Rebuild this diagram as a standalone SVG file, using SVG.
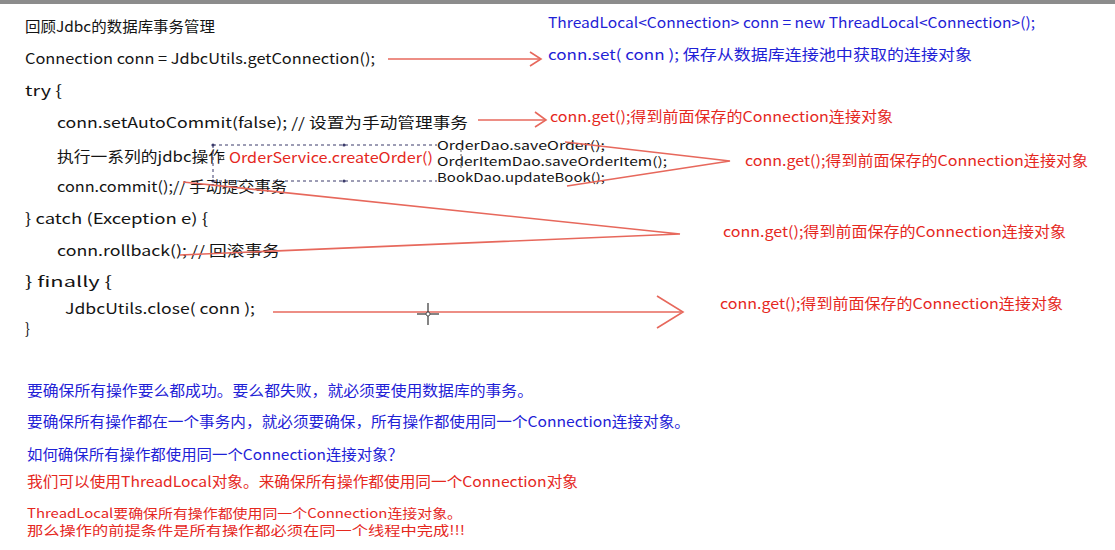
<svg xmlns="http://www.w3.org/2000/svg" width="1115" height="550" viewBox="0 0 1115 550">
<defs>
<style>
text{font-family:"Noto Sans CJK SC","Liberation Sans",sans-serif;font-size:14.5px;}
.sm{font-size:13px;}
.xs{font-size:12px;}
.k{fill:#141414;}
.b{fill:#1f22d6;}
.r{fill:#e5281e;}
.ln{stroke:#e7685c;stroke-width:1.6;fill:none;}
.dash{stroke:#3a3a6a;stroke-width:1;stroke-dasharray:3 3;fill:none;}
</style>
</defs>
<rect width="1115" height="550" fill="#ffffff"/>
<rect width="1115" height="4" fill="#8c8c8c"/>

<g id="title"><text class="k" x="25" y="32" textLength="190" lengthAdjust="spacingAndGlyphs">回顾Jdbc的数据库事务管理</text></g>
<g id="threadlocal-decl"><text class="b" x="548" y="28" textLength="487" lengthAdjust="spacingAndGlyphs">ThreadLocal&lt;Connection&gt; conn = new ThreadLocal&lt;Connection&gt;();</text></g>
<g id="get-connection"><text class="k" x="25" y="64" textLength="350" lengthAdjust="spacingAndGlyphs">Connection conn = JdbcUtils.getConnection();</text></g>
<g id="conn-set"><text class="b" x="548" y="60" textLength="424" lengthAdjust="spacingAndGlyphs">conn.set( conn );  保存从数据库连接池中获取的连接对象</text></g>
<g id="try"><text class="k" x="25" y="96" textLength="37" lengthAdjust="spacingAndGlyphs">try {</text></g>
<g id="set-autocommit"><text class="k" x="57" y="128" textLength="411" lengthAdjust="spacingAndGlyphs">conn.setAutoCommit(false); // 设置为手动管理事务</text></g>
<g id="get-1"><text class="r" x="550" y="122" textLength="343" lengthAdjust="spacingAndGlyphs">conn.get();得到前面保存的Connection连接对象</text></g>
<g id="jdbc-ops"><text class="k" x="57" y="162" textLength="168" lengthAdjust="spacingAndGlyphs">执行一系列的jdbc操作</text></g>
<g id="create-order">
<line class="dash" x1="213" y1="145" x2="437" y2="145"/>
<line class="dash" x1="213" y1="181" x2="437" y2="181"/>
<line class="dash" x1="213" y1="145" x2="213" y2="181"/>
<circle cx="213" cy="145" r="1.6" fill="#3a3a6a"/>
<circle cx="213" cy="181" r="1.6" fill="#3a3a6a"/>
<circle cx="344" cy="145" r="1.6" fill="#3a3a6a"/>
<circle cx="344" cy="181" r="1.6" fill="#3a3a6a"/>
<circle cx="222" cy="158" r="1.8" fill="none" stroke="#555" stroke-width="0.8"/>
<text class="r" x="229" y="163" textLength="204" lengthAdjust="spacingAndGlyphs">OrderService.createOrder()</text>
</g>
<g id="dao-calls">
<text class="k xs" x="437" y="150" textLength="168" lengthAdjust="spacingAndGlyphs">OrderDao.saveOrder();</text>
<text class="k xs" x="437" y="166" textLength="230" lengthAdjust="spacingAndGlyphs">OrderItemDao.saveOrderItem();</text>
<text class="k xs" x="437" y="182" textLength="168" lengthAdjust="spacingAndGlyphs">BookDao.updateBook();</text>
<line x1="461" y1="150" x2="461" y2="170" stroke="#333" stroke-width="0.8" stroke-dasharray="2 2"/>
</g>
<g id="get-2"><text class="r" x="745" y="166" textLength="343" lengthAdjust="spacingAndGlyphs">conn.get();得到前面保存的Connection连接对象</text></g>
<g id="commit"><text class="k" x="57" y="192" textLength="230" lengthAdjust="spacingAndGlyphs">conn.commit();// 手动提交事务</text></g>
<g id="catch"><text class="k" x="25" y="224" textLength="183" lengthAdjust="spacingAndGlyphs">} catch (Exception e) {</text></g>
<g id="get-3"><text class="r" x="723" y="237" textLength="343" lengthAdjust="spacingAndGlyphs">conn.get();得到前面保存的Connection连接对象</text></g>
<g id="rollback"><text class="k" x="57" y="256" textLength="223" lengthAdjust="spacingAndGlyphs">conn.rollback(); // 回滚事务</text></g>
<g id="finally"><text class="k" x="25" y="287" textLength="87" lengthAdjust="spacingAndGlyphs">} finally {</text></g>
<g id="close"><text class="k" x="65" y="314" textLength="190" lengthAdjust="spacingAndGlyphs">JdbcUtils.close( conn );</text></g>
<g id="get-4"><text class="r" x="720" y="309" textLength="343" lengthAdjust="spacingAndGlyphs">conn.get();得到前面保存的Connection连接对象</text></g>
<g id="end-brace"><text class="k" x="25" y="334">}</text></g>

<g id="notes">
<text class="b" x="27" y="396" textLength="506" lengthAdjust="spacingAndGlyphs">要确保所有操作要么都成功。要么都失败，就必须要使用数据库的事务。</text>
<text class="b" x="27" y="427" textLength="663" lengthAdjust="spacingAndGlyphs">要确保所有操作都在一个事务内，就必须要确保，所有操作都使用同一个Connection连接对象。</text>
<text class="b" x="27" y="460" textLength="376" lengthAdjust="spacingAndGlyphs">如何确保所有操作都使用同一个Connection连接对象？</text>
<text class="r" x="27" y="487" textLength="551" lengthAdjust="spacingAndGlyphs">我们可以使用ThreadLocal对象。来确保所有操作都使用同一个Connection对象</text>
<text class="r sm" x="27" y="518" textLength="435" lengthAdjust="spacingAndGlyphs">ThreadLocal要确保所有操作都使用同一个Connection连接对象。</text>
<text class="r sm" x="27" y="535" textLength="438" lengthAdjust="spacingAndGlyphs">那么操作的前提条件是所有操作都必须在同一个线程中完成!!!</text>
</g>

<g id="connectors">
<line class="ln" x1="388" y1="59" x2="540" y2="59"/>
<polyline class="ln" points="530,52 541,59 530,66"/>
<line class="ln" x1="478" y1="120" x2="545" y2="120"/>
<polyline class="ln" points="535,112 546,120 535,127"/>
<polyline class="ln" points="565,142 730,161 567,186"/>
<polyline class="ln" points="183,182 680,234 180,255"/>
<line class="ln" x1="273" y1="312" x2="681" y2="312"/>
<polyline class="ln" points="657,296 683,312 657,328"/>
</g>

<g id="cursor" stroke="#333" stroke-width="1.2">
<line x1="428" y1="303" x2="428" y2="325"/>
<line x1="417" y1="314" x2="439" y2="314"/>
<circle cx="428" cy="314" r="2" fill="#fff" stroke-width="0.8"/>
</g>
</svg>
